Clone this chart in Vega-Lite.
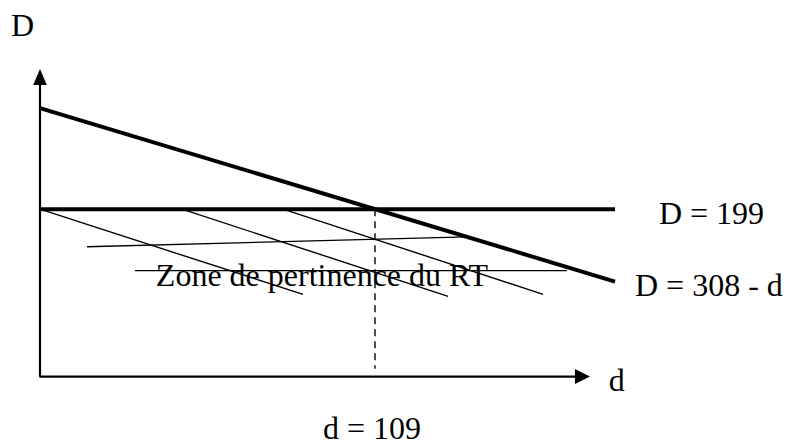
{
  "$schema": "https://vega.github.io/schema/vega-lite/v6.json",
  "width": 786,
  "height": 446,
  "padding": 0,
  "autosize": {"type": "fit", "contains": "padding"},
  "background": "white",
  "config": {"view": {"stroke": null}},
  "datasets": {
    "axes": [
      {"name": "y axis", "d1": 0, "D1": 18.4, "d2": 0, "D2": 335},
      {"name": "x axis", "d1": -0.2, "D1": 18.4, "d2": 174.4, "D2": 18.4}
    ],
    "arrowUp": [{"name": "D", "d": 0, "D": 341.5}],
    "arrowRight": [{"name": "d", "d": 176.5, "D": 18.4}],
    "thick": [
      {"name": "D = 308 - d", "d1": 0, "D1": 308, "d2": 187.1, "D2": 120.9},
      {"name": "D = 199", "d1": 0, "D1": 199, "d2": 187.1, "D2": 199}
    ],
    "thin": [
      {"name": "hatch 1", "d1": 0, "D1": 199, "d2": 85.6, "D2": 107.1},
      {"name": "hatch 2", "d1": 46.2, "D1": 199, "d2": 132.8, "D2": 105.0},
      {"name": "hatch 3", "d1": 79.1, "D1": 199, "d2": 163.7, "D2": 107.1},
      {"name": "bar 1", "d1": 15.3, "D1": 158.4, "d2": 138.9, "D2": 169.1},
      {"name": "bar 2", "d1": 30.9, "D1": 132.7, "d2": 171.5, "D2": 132.7}
    ],
    "dashed": [{"name": "d = 109", "d1": 109, "D1": 199, "d2": 109, "D2": 27.0}],
    "labels": [
      {"label": "D", "d": -9.44, "D": 386.0},
      {"label": "D = 199", "d": 201.4, "D": 183.0},
      {"label": "D = 308 - d", "d": 193.6, "D": 105.0},
      {"label": "d", "d": 185.1, "D": 2.4},
      {"label": "d = 109", "d": 92.1, "D": -48.9},
      {"label": "Zone de pertinence du RT", "d": 37.7, "D": 115.6}
    ]
  },
  "encoding": {},
  "layer": [
    {
      "data": {"name": "thin"},
      "mark": {"type": "rule", "color": "black", "strokeWidth": 1.4},
      "encoding": {
        "x": {"field": "d1", "type": "quantitative", "scale": {"domain": [-13.015, 242.74], "nice": false, "zero": false}, "axis": null},
        "y": {"field": "D1", "type": "quantitative", "scale": {"domain": [-52.1, 424.5], "nice": false, "zero": false}, "axis": null},
        "x2": {"field": "d2"},
        "y2": {"field": "D2"}
      }
    },
    {
      "data": {"name": "dashed"},
      "mark": {"type": "rule", "color": "black", "strokeWidth": 1.4, "strokeDash": [7, 5]},
      "encoding": {
        "x": {"field": "d1", "type": "quantitative", "axis": null},
        "y": {"field": "D1", "type": "quantitative", "axis": null},
        "x2": {"field": "d2"},
        "y2": {"field": "D2"}
      }
    },
    {
      "data": {"name": "thick"},
      "mark": {"type": "rule", "color": "black", "strokeWidth": 4},
      "encoding": {
        "x": {"field": "d1", "type": "quantitative", "axis": null},
        "y": {"field": "D1", "type": "quantitative", "axis": null},
        "x2": {"field": "d2"},
        "y2": {"field": "D2"}
      }
    },
    {
      "data": {"name": "axes"},
      "mark": {"type": "rule", "color": "black", "strokeWidth": 2.2},
      "encoding": {
        "x": {"field": "d1", "type": "quantitative", "axis": null},
        "y": {"field": "D1", "type": "quantitative", "axis": null},
        "x2": {"field": "d2"},
        "y2": {"field": "D2"}
      }
    },
    {
      "data": {"name": "arrowUp"},
      "mark": {"type": "point", "shape": "M0,-1L0.85,1L-0.85,1Z", "size": 256, "filled": true, "color": "black", "opacity": 1, "strokeWidth": 0},
      "encoding": {
        "x": {"field": "d", "type": "quantitative", "axis": null},
        "y": {"field": "D", "type": "quantitative", "axis": null}
      }
    },
    {
      "data": {"name": "arrowRight"},
      "mark": {"type": "point", "shape": "M1,0L-1,-1L-1,1Z", "size": 225, "filled": true, "color": "black", "opacity": 1, "strokeWidth": 0},
      "encoding": {
        "x": {"field": "d", "type": "quantitative", "axis": null},
        "y": {"field": "D", "type": "quantitative", "axis": null}
      }
    },
    {
      "data": {"name": "labels"},
      "mark": {"type": "text", "font": "'Times New Roman', 'Liberation Serif', 'DejaVu Serif', serif", "fontSize": 32, "align": "left", "baseline": "alphabetic", "color": "black"},
      "encoding": {
        "x": {"field": "d", "type": "quantitative", "axis": null},
        "y": {"field": "D", "type": "quantitative", "axis": null},
        "text": {"field": "label"}
      }
    }
  ]
}
